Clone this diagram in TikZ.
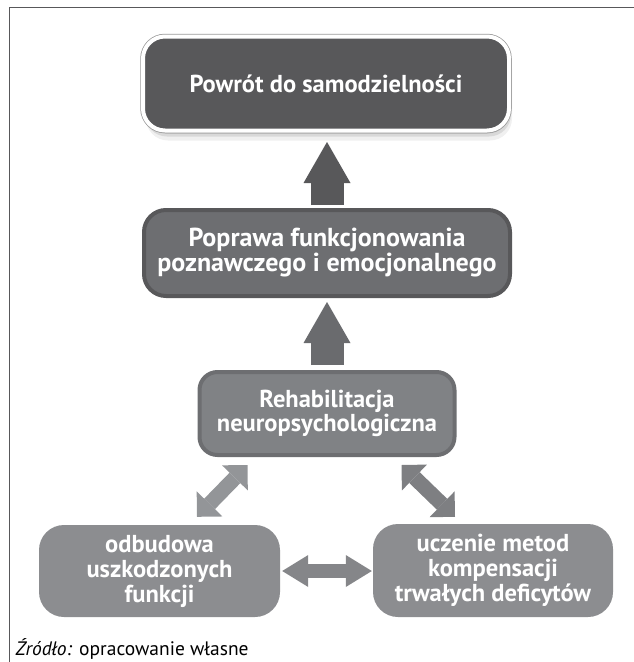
\documentclass[tikz,border=0pt]{standalone}
\usepackage{fontspec}
\setmainfont{PT Sans}
\usepackage{xcolor}
\usetikzlibrary{arrows.meta,shadows,calc}

\definecolor{grA}{HTML}{58585A}
\definecolor{grB}{HTML}{6D6E71}
\definecolor{grC}{HTML}{808285}
\definecolor{grD}{HTML}{8C8D90}
\definecolor{grE}{HTML}{939598}
\definecolor{grF}{HTML}{7E7F82}

\begin{document}
\begin{tikzpicture}[x=1pt,y=-1pt,
  box/.style={rectangle, rounded corners=22pt, text=white, align=center, inner sep=0pt,
    font=\bfseries\fontsize{24.5}{24}\selectfont},
  uparr/.style={line width=33pt, -{Triangle[length=41pt,width=47pt,line width=0pt]}},
  dblarr/.style={line width=15pt, {Triangle[length=18pt,width=36pt,line width=0pt]}-{Triangle[length=18pt,width=36pt,line width=0pt]}},
  sidearr/.style={line width=14pt, {Triangle[length=26pt,width=32pt,line width=0pt]}-{Triangle[length=26pt,width=32pt,line width=0pt]}}]
  \useasboundingbox (0,0) rectangle (634,662);
  \draw[grA, line width=1pt] (9,662) -- (9,7) -- (634,7);
  \node[box, minimum width=366pt, minimum height=94pt,
    drop shadow={shadow xshift=1pt,shadow yshift=-3pt,opacity=.25},
    drop shadow={shadow xshift=2pt,shadow yshift=-6pt,opacity=.2},
    drop shadow={shadow xshift=3pt,shadow yshift=-10pt,opacity=.12},
    preaction={draw=gray!80, line width=5.5pt},
    fill=grA, draw=white, line width=4pt] (goal) at (326,83.5) {Powrót do samodzielności};
  \node[box, minimum width=366pt, minimum height=86pt, fill=grB, draw=grA, line width=4pt,
    font=\bfseries\fontsize{26}{25}\selectfont] (improve) at (327,253)
    {Poprawa funkcjonowania\\poznawczego i emocjonalnego};
  \node[box, rounded corners=18pt, minimum width=255pt, minimum height=83pt, fill=grC, draw=grB, line width=4pt] (rehab) at (327,413.5)
    {Rehabilitacja\\neuropsychologiczna};
  \node[box, rounded corners=25pt, minimum width=241pt, minimum height=92pt, fill=grD, font=\bfseries\fontsize{24.5}{25}\selectfont] (rebuild) at (159.5,571)
    {odbudowa\\uszkodzonych\\funkcji};
  \node[box, rounded corners=25pt, minimum width=240pt, minimum height=93pt, fill=grD, font=\bfseries\fontsize{24.5}{25}\selectfont] (compens) at (493,570.5)
    {uczenie metod\\kompensacji\\trwałych deficytów};
  \draw[uparr, grA, shorten <=3pt, shorten >=9.5pt] (improve.north) -- (improve.north |- goal.south);
  \draw[uparr, grB!85!grA, shorten <=5pt, shorten >=4pt] (rehab.north) -- (rehab.north |- improve.south);
  \draw[dblarr, grE] ($(rehab.south west)+(50,8)$) -- ($(rebuild.north)+(37.5,-8)$);
  \draw[dblarr, grF] ($(rehab.south east)+(-55,8)$) -- ($(compens.north)+(-38,-7)$);
  \draw[sidearr, grD!95!black, shorten <=2pt, shorten >=1pt] (rebuild.east) -- (rebuild.east -| compens.west);
  \node[anchor=base west, font=\fontsize{19.5}{19.5}\selectfont] (source) at (12,655) {\textit{Źródło:} opracowanie własne};
\end{tikzpicture}
\end{document}
